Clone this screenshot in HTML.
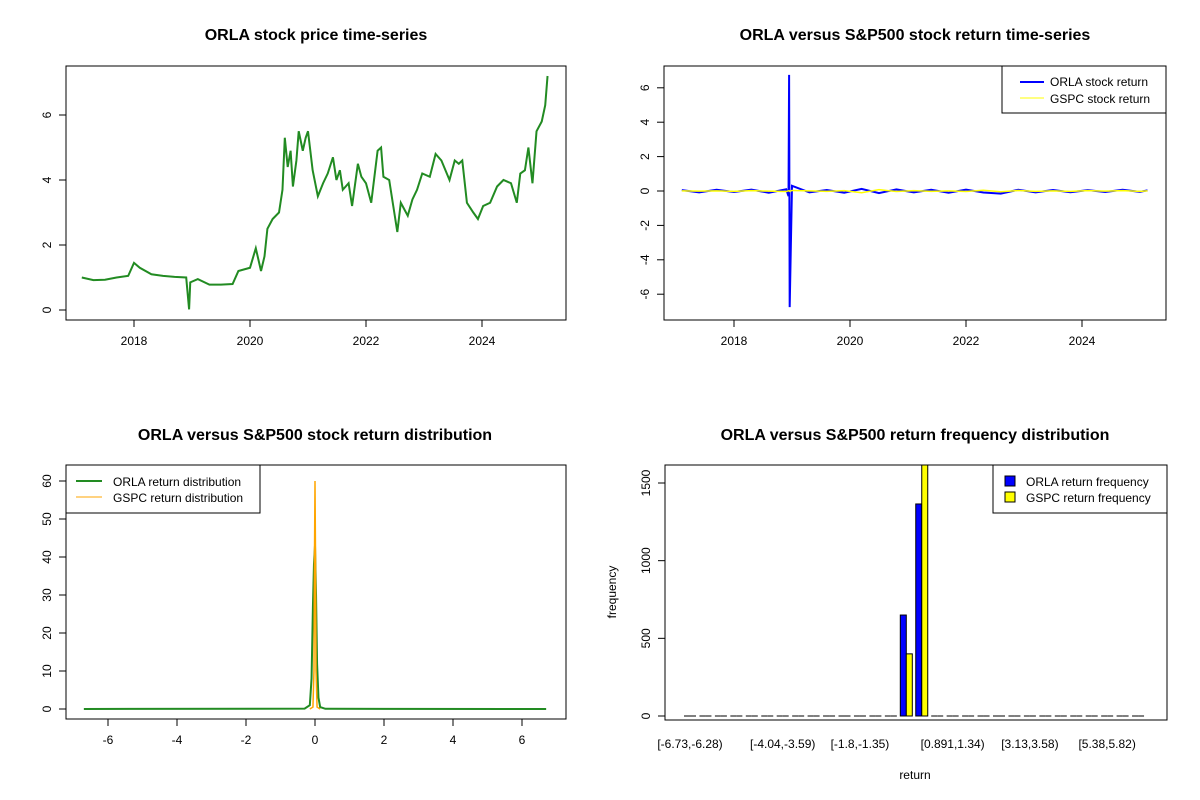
<!DOCTYPE html>
<html><head><meta charset="utf-8"><style>
html,body{margin:0;padding:0;background:#fff}
svg{display:block;font-family:"Liberation Sans",Arial,sans-serif}
</style></head><body>
<svg id="c" width="1200" height="800" viewBox="0 0 1200 800"></svg>
<script>
// ---- data ----
const priceYears=[2017.1,2017.3,2017.5,2017.7,2017.9,2018.0,2018.1,2018.3,2018.5,2018.7,2018.9,2018.95,2018.97,2019.1,2019.3,2019.5,2019.7,2019.8,2019.9,2020.0,2020.1,2020.19,2020.25,2020.3,2020.39,2020.5,2020.56,2020.6,2020.65,2020.7,2020.74,2020.8,2020.84,2020.91,2020.96,2021.0,2021.08,2021.17,2021.26,2021.34,2021.43,2021.49,2021.55,2021.6,2021.7,2021.76,2021.86,2021.92,2022.0,2022.09,2022.2,2022.26,2022.3,2022.4,2022.47,2022.54,2022.6,2022.66,2022.72,2022.8,2022.88,2022.97,2023.1,2023.2,2023.3,2023.44,2023.53,2023.6,2023.66,2023.74,2023.85,2023.93,2024.02,2024.14,2024.26,2024.37,2024.5,2024.6,2024.66,2024.74,2024.8,2024.87,2024.94,2025.03,2025.09,2025.13];
const priceValues=[1.0,0.92,0.93,1.0,1.05,1.45,1.3,1.1,1.05,1.02,1.0,0.02,0.85,0.95,0.78,0.78,0.8,1.2,1.25,1.3,1.9,1.2,1.65,2.5,2.8,3.0,3.7,5.3,4.4,4.9,3.8,4.6,5.5,4.9,5.3,5.5,4.3,3.5,3.9,4.2,4.7,4.0,4.3,3.7,3.9,3.2,4.5,4.1,3.9,3.3,4.9,5.0,4.1,4.0,3.2,2.4,3.3,3.1,2.9,3.4,3.7,4.2,4.1,4.8,4.6,4.0,4.6,4.5,4.6,3.3,3.0,2.8,3.2,3.3,3.8,4.0,3.9,3.3,4.2,4.3,5.0,3.9,5.5,5.8,6.3,7.2];
const retYears=[2017.1,2017.4,2017.7,2018.0,2018.3,2018.6,2018.9,2018.94,2018.95,2018.96,2019.0,2019.3,2019.6,2019.9,2020.2,2020.5,2020.8,2021.1,2021.4,2021.7,2022.0,2022.3,2022.6,2022.9,2023.2,2023.5,2023.8,2024.1,2024.4,2024.7,2025.0,2025.13];
const orlaRet=[0.05,-0.08,0.07,-0.06,0.08,-0.1,0.1,-0.3,6.75,-6.75,0.3,-0.08,0.06,-0.1,0.12,-0.12,0.09,-0.08,0.07,-0.1,0.08,-0.09,-0.15,0.07,-0.08,0.06,-0.07,0.05,-0.06,0.07,-0.05,0.04];
const gspcRet=[0.01,-0.01,0.01,-0.02,0.02,-0.01,-0.03,0.01,0.02,-0.02,0.03,0.01,-0.02,0.02,-0.1,0.08,-0.03,0.02,-0.02,0.01,-0.03,0.04,-0.04,0.03,-0.02,0.01,-0.02,0.02,-0.01,0.02,-0.02,0.01];
const densX=[-6.7,-0.3,-0.15,-0.1,-0.06,-0.03,0,0.03,0.06,0.1,0.15,0.3,6.7];
const orlaDens=[0,0.1,1,8,27,38,43,30,12,3,0.5,0.05,0];
const gspcX=[-0.15,-0.06,-0.03,-0.015,0,0.015,0.03,0.06,0.15];
const gspcDens=[0,0.5,10,40,60,40,10,0.5,0];
const binLabels=["[-6.73,-6.28)","[-4.04,-3.59)","[-1.8,-1.35)","[0.891,1.34)","[3.13,3.58)","[5.38,5.82)"];
const binLabelIdx=[0,6,11,17,22,27];
const orlaFreq=[0,0,0,0,0,0,0,0,0,0,0,0,0,0,650,1365,0,0,0,0,0,0,0,0,0,0,0,0,0,0];
const gspcFreq=[0,0,0,0,0,0,0,0,0,0,0,0,0,0,400,1700,0,0,0,0,0,0,0,0,0,0,0,0,0,0];
const yearTicks=[2018,2020,2022,2024];

const S=document.getElementById('c');const NS='http://www.w3.org/2000/svg';
function el(t,a,p){const e=document.createElementNS(NS,t);for(const k in a)e.setAttribute(k,a[k]);(p||S).appendChild(e);return e;}
function txt(x,y,s,a,p){const e=el('text',Object.assign({x:x,y:y,'font-size':12,'text-anchor':'middle',fill:'#000'},a||{}),p);e.textContent=s;return e;}
function frame(g,x0,y0,x1,y1){const r=el('rect',{x:x0,y:y0,width:x1-x0,height:y1-y0,fill:'none',stroke:'#000','stroke-width':1},g);}
function yTick(g,x,y,lab){el('line',{x1:x,x2:x-7,y1:y,y2:y,stroke:'#000'},g);const t=txt(x-15,y,lab,{transform:`rotate(-90 ${x-15} ${y})`},g);}
function xTick(g,x,y,lab){el('line',{x1:x,x2:x,y1:y,y2:y+7,stroke:'#000'},g);const t=txt(x,y+25,lab,{},g);}
function title(x,y,s){const t=txt(x,y,s,{'font-size':16,'font-weight':'bold'});}

// ---- panel 1 price ----
{const g=el('g',{});
const X=v=>134+(v-2018)*58,Y=v=>310-v*32.5;
title(316,40,'ORLA stock price time-series');
const pl=el('polyline',{points:priceYears.map((t,i)=>X(t)+','+Y(priceValues[i])).join(' '),fill:'none',stroke:'#228b22','stroke-width':2},g);

frame(g,66,66,566,320);
yearTicks.forEach(t=>xTick(g,X(t),320,String(t)));
[0,2,4,6].forEach(v=>yTick(g,66,Y(v),String(v)));}

// ---- panel 2 returns ----
{const g=el('g',{});
const X=v=>734+(v-2018)*58,Y=v=>191-v*17.2;
title(915,40,'ORLA versus S&P500 stock return time-series');
const a=el('polyline',{points:retYears.map((t,i)=>X(t)+','+Y(orlaRet[i])).join(' '),fill:'none',stroke:'#0000ff','stroke-width':2},g);

const b=el('polyline',{points:retYears.map((t,i)=>X(t)+','+Y(gspcRet[i])).join(' '),fill:'none',stroke:'#ffff00','stroke-width':1.5},g);

frame(g,664,66,1166,320);
yearTicks.forEach(t=>xTick(g,X(t),320,String(t)));
[-6,-4,-2,0,2,4,6].forEach(v=>yTick(g,664,Y(v),String(v)));
const lg=el('g',{},g);
el('rect',{x:1002,y:66,width:164,height:47,fill:'#fff',stroke:'#000'},lg);
el('line',{x1:1020,x2:1044,y1:82,y2:82,stroke:'#0000ff','stroke-width':2},lg);
el('line',{x1:1020,x2:1044,y1:98,y2:98,stroke:'#ffff00','stroke-width':1},lg);
txt(1050,86,'ORLA stock return',{'text-anchor':'start'},lg);
txt(1050,103,'GSPC stock return',{'text-anchor':'start'},lg);}

// ---- panel 3 density ----
{const g=el('g',{});
const X=v=>315+v*34.5,Y=v=>709-v*3.8;
title(315,440,'ORLA versus S&P500 stock return distribution');
const a=el('polyline',{points:densX.map((t,i)=>X(t)+','+Y(orlaDens[i])).join(' '),fill:'none',stroke:'#228b22','stroke-width':2},g);

const b=el('polyline',{points:gspcX.map((t,i)=>X(t)+','+Y(gspcDens[i])).join(' '),fill:'none',stroke:'#ffa500','stroke-width':1.5},g);

frame(g,66,465,566,719);
[-6,-4,-2,0,2,4,6].forEach(v=>xTick(g,X(v),719,String(v)));
[0,10,20,30,40,50,60].forEach(v=>yTick(g,66,Y(v),String(v)));
const lg=el('g',{},g);
el('rect',{x:66,y:465,width:194,height:48,fill:'#fff',stroke:'#000'},lg);
el('line',{x1:76,x2:102,y1:481,y2:481,stroke:'#228b22','stroke-width':2},lg);
el('line',{x1:76,x2:102,y1:497,y2:497,stroke:'#ffa500','stroke-width':1},lg);
txt(113,486,'ORLA return distribution',{'text-anchor':'start'},lg);
txt(113,502,'GSPC return distribution',{'text-anchor':'start'},lg);}

// ---- panel 4 histogram ----
{const g=el('g',{});
const base=716,sc=233/1500,Y=v=>base-v*sc,gx=i=>684+i*15.45,w=6;
title(915,440,'ORLA versus S&P500 return frequency distribution');
const cp=el('clipPath',{id:'cp4'},g);el('rect',{x:665,y:465,width:502,height:255},cp);
const bg=el('g',{'clip-path':'url(#cp4)'},g);
orlaFreq.forEach((v,i)=>{
 if(v>0){const r=el('rect',{x:gx(i),y:Y(v),width:w,height:v*sc,fill:'#0000ff',stroke:'#000','stroke-width':1},bg);}
 else{const r=el('line',{x1:gx(i),x2:gx(i)+w,y1:base,y2:base,stroke:'#000','stroke-width':1},bg);}});
gspcFreq.forEach((v,i)=>{
 if(v>0){const r=el('rect',{x:gx(i)+w,y:Y(v),width:w,height:v*sc,fill:'#ffff00',stroke:'#000','stroke-width':1},bg);}
 else{const r=el('line',{x1:gx(i)+w,x2:gx(i)+2*w,y1:base,y2:base,stroke:'#000','stroke-width':1},bg);}});
frame(g,665,465,1167,720);
[0,500,1000,1500].forEach(v=>yTick(g,665,Y(v),String(v)));
binLabels.forEach((s,k)=>{const t=txt(gx(binLabelIdx[k])+w,748,s,{},g);});
const xl=txt(915,779,'return',{},g);
const yl=txt(616,592,'frequency',{transform:'rotate(-90 616 592)'},g);
const lg=el('g',{},g);
el('rect',{x:993,y:465,width:174,height:48,fill:'#fff',stroke:'#000'},lg);
el('rect',{x:1005,y:476,width:10,height:10,fill:'#0000ff',stroke:'#000'},lg);
el('rect',{x:1005,y:492,width:10,height:10,fill:'#ffff00',stroke:'#000'},lg);
txt(1026,486,'ORLA return frequency',{'text-anchor':'start'},lg);
txt(1026,502,'GSPC return frequency',{'text-anchor':'start'},lg);}
</script>
</body></html>
